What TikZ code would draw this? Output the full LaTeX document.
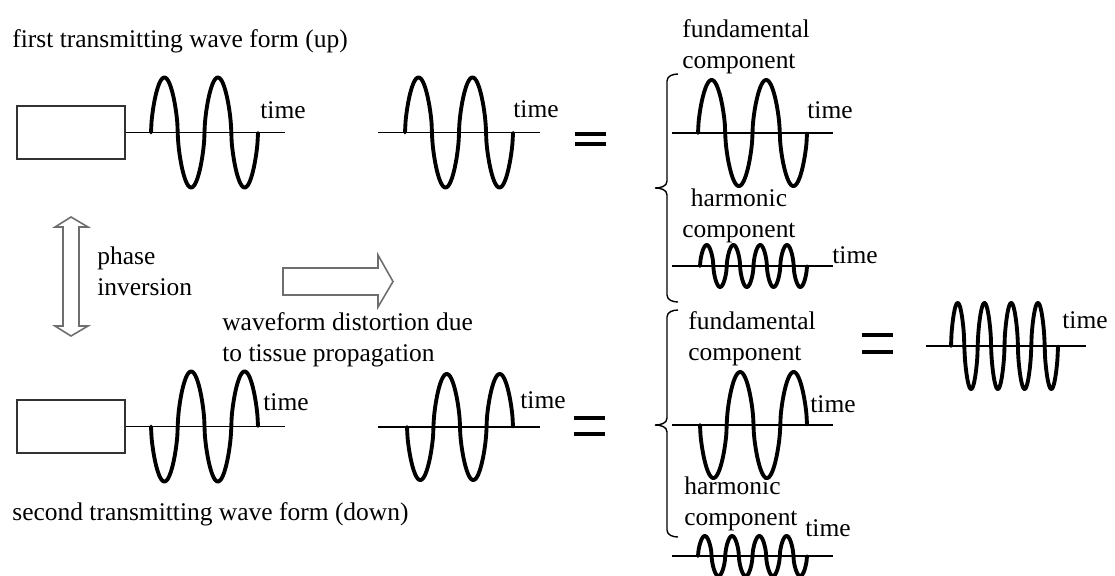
\documentclass[tikz,border=0pt]{standalone}
\usepackage{fontspec}
\setmainfont{Liberation Serif}
\usepackage{tikz}
\definecolor{arrowgray}{RGB}{110,110,110}
\definecolor{boxgray}{RGB}{50,50,50}

% #1 start x, #2 axis y, #3 amplitude (positive = up first), #4 periods, #5 length
\newcommand{\sinewave}[5]{%
  \draw[wave] plot[domain=0:#5, samples=200, smooth]
    ({#1+\x},{#2-(#3)*sign(sin(\x/#5*#4*360))*pow(abs(sin(\x/#5*#4*360))+0.0001,0.6)});
}
% #1 left x, #2 upper bar y, #3 lower bar y
\newcommand{\equalsign}[3]{%
  \draw[eqbar] (#1,#2) -- ++(31,0);
  \draw[eqbar] (#1,#3) -- ++(31,0);
}

\begin{document}
\begin{tikzpicture}[x=0.02cm, y=-0.02cm,
    font=\fontsize{14.5}{17.5}\selectfont,
    txt/.style={anchor=base west, inner sep=0pt},
    wave/.style={line width=2.2pt, line join=round, line cap=round},
    axis/.style={line width=0.7pt},
    eqbar/.style={line width=2.5pt},
    txbox/.style={draw=boxgray, line width=1.1pt, minimum width=2.16cm, minimum height=1.06cm, inner sep=0pt},
    bracket/.style={line width=0.8pt},
    hollowarrow/.style={draw=arrowgray, line width=0.9pt, line join=miter}]
    \fill[white] (0,0) rectangle (1115,575);
    \useasboundingbox (0,0) rectangle (1115,575);

    % First transmitting wave (up)
    \node[txt] (upcap) at (12,47) {first transmitting wave form (up)};
    \node[txbox] (boxup) at (71,132.5) {};
    \coordinate (axupend) at (285,132.5);
    \draw[axis] (boxup.east) -- (axupend);
    \sinewave{151}{132.5}{55}{2}{107}
    \node[txt] (timeup) at (260,118) {time};

    \draw[axis] (378,132.5) -- (540,132.5);
    \sinewave{405}{132.5}{55}{2}{108}
    \node[txt] (timeupmid) at (513,117) {time};
    \equalsign{575}{134}{144}

    % Upper decomposition
    \draw[bracket] (678,74) to[out=180,in=90] (667,81) -- (667,181)
        to[out=-90,in=0] (655,188) to[out=0,in=90] (667,195) -- (667,295)
        to[out=-90,in=180] (678,302);
    \node[txt, align=left] (fundup) at (682,68) {fundamental\\component};
    \draw[axis] (672,133) -- (833,133);
    \sinewave{698}{133}{53}{2}{109}
    \node[txt] (timefundup) at (807,118) {time};

    \node[txt, align=center] (harmup) at (682,237) {harmonic\\component};
    \draw[axis] (672,266) -- (833,266);
    \sinewave{700}{266}{21}{4}{107}
    \node[txt] (timeharmup) at (832,263) {time};

    % Phase inversion arrow
    \draw[hollowarrow] (71,217) -- (88,227) -- (79,227) -- (79,326) -- (88,326)
        -- (71,336) -- (55,326) -- (63,326) -- (63,227) -- (55,227) -- cycle;
    \node[txt, align=left] (phasecap) at (97,295) {phase\\inversion};

    % Propagation arrow
    \draw[hollowarrow] (283,268) -- (378,268) -- (378,255) -- (393,281.5)
        -- (378,307) -- (378,295) -- (283,295) -- cycle;
    \node[txt, align=left] (distcap) at (222,361) {waveform distortion due\\to tissue propagation};

    % Second transmitting wave (down)
    \node[txbox] (boxdown) at (71,426.5) {};
    \coordinate (axdownend) at (285,426.5);
    \draw[axis] (boxdown.east) -- (axdownend);
    \sinewave{151}{426.5}{-55}{2}{107}
    \node[txt] (timedown) at (263,410) {time};
    \node[txt] (downcap) at (12,520) {second transmitting wave form (down)};

    \draw[axis] (378,427) -- (540,427);
    \sinewave{407}{427}{-53}{2}{106}
    \node[txt] (timedownmid) at (520,408) {time};
    \equalsign{574}{418}{434}

    % Lower decomposition
    \draw[bracket] (678,310) to[out=180,in=90] (667,317) -- (667,418)
        to[out=-90,in=0] (655,425) to[out=0,in=90] (667,432) -- (667,530)
        to[out=-90,in=180] (678,537);
    \node[txt, align=left] (funddown) at (688,360) {fundamental\\component};
    \draw[axis] (672,425) -- (833,425);
    \sinewave{700}{425}{-53}{2}{107}
    \node[txt] (timefunddown) at (810,412) {time};

    \node[txt, align=left] (harmdown) at (684,525) {harmonic\\component};
    \draw[axis] (672,556) -- (833,556);
    \sinewave{698}{556}{20}{4}{109}
    \node[txt] (timeharmdown) at (805,536) {time};

    % Sum of harmonic components
    \equalsign{862}{335}{352}
    \draw[axis] (926,346) -- (1086,346);
    \sinewave{951}{346}{43}{4}{107}
    \node[txt] (timesum) at (1062,328) {time};
\end{tikzpicture}
\end{document}
